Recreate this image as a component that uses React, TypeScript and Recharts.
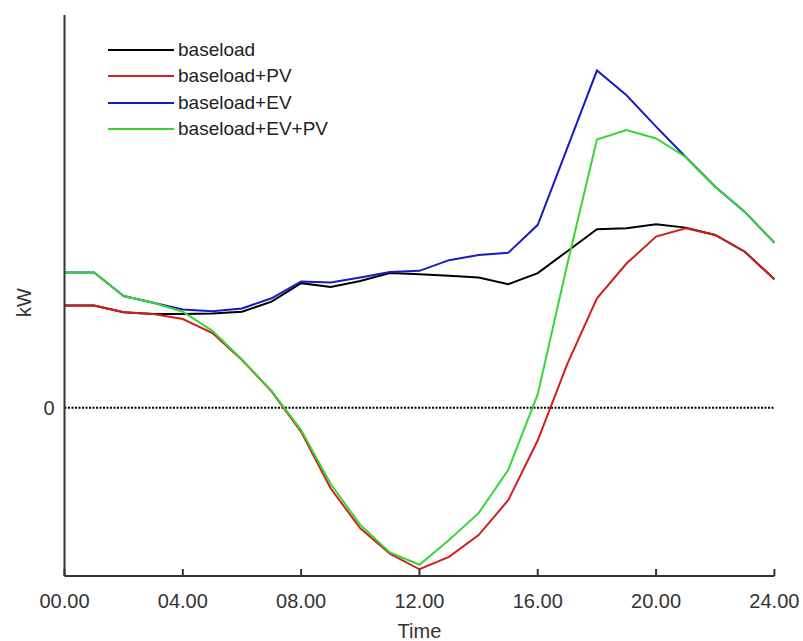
import { Legend, Line, LineChart, ReferenceLine, XAxis, YAxis } from "recharts";

const hours = [0, 1, 2, 3, 4, 5, 6, 7, 8, 9, 10, 11, 12, 13, 14, 15, 16, 17, 18, 19, 20, 21, 22, 23, 24];
const xTicks = [0, 4, 8, 12, 16, 20, 24];

// kW per hour of the day
const baseload = [1.82, 1.82, 1.7, 1.67, 1.67, 1.68, 1.71, 1.89, 2.22, 2.15, 2.26, 2.4, 2.38, 2.35, 2.32, 2.2, 2.4, 2.79, 3.18, 3.2, 3.27, 3.21, 3.08, 2.78, 2.29];
const baseloadPV = [1.82, 1.82, 1.7, 1.67, 1.58, 1.33, 0.85, 0.29, -0.43, -1.44, -2.15, -2.6, -2.88, -2.66, -2.27, -1.65, -0.58, 0.78, 1.95, 2.57, 3.05, 3.2, 3.08, 2.78, 2.29];
const baseloadEV = [2.41, 2.41, 1.99, 1.87, 1.75, 1.72, 1.77, 1.95, 2.25, 2.23, 2.32, 2.42, 2.44, 2.63, 2.72, 2.76, 3.26, 4.63, 6.01, 5.57, 5.01, 4.47, 3.94, 3.49, 2.94];
const baseloadEVPV = [2.41, 2.41, 1.99, 1.87, 1.71, 1.37, 0.86, 0.3, -0.4, -1.36, -2.09, -2.58, -2.8, -2.36, -1.88, -1.11, 0.24, 2.56, 4.78, 4.95, 4.8, 4.47, 3.94, 3.49, 2.94];

const series = [
  { key: "baseload", name: "baseload", color: "#000000" },
  { key: "baseloadPV", name: "baseload+PV", color: "#d11f1f" },
  { key: "baseloadEV", name: "baseload+EV", color: "#1a1ac4" },
  { key: "baseloadEVPV", name: "baseload+EV+PV", color: "#37d637" },
];

// lines are painted in this order so green sits over red and red over black
const drawOrder = ["baseload", "baseloadEV", "baseloadPV", "baseloadEVPV"];

const data = hours.map((hour, i) => ({
  hour,
  baseload: baseload[i],
  baseloadPV: baseloadPV[i],
  baseloadEV: baseloadEV[i],
  baseloadEVPV: baseloadEVPV[i],
}));

const FONT = "'Liberation Sans', Arial, sans-serif";
const AXIS_COLOR = "#333333";

const formatHour = (h: number) => `${String(h).padStart(2, "0")}.00`;

function TimeTick(props: any) {
  const { x, y, payload } = props;
  return (
    <g>
      <line x1={x} y1={y} x2={x} y2={y - 7} stroke={AXIS_COLOR} strokeWidth={2} />
      <text x={x} y={y + 32} textAnchor="middle" fill={AXIS_COLOR} fontSize={20} fontFamily={FONT}>
        {formatHour(payload.value)}
      </text>
    </g>
  );
}

function PowerTick(props: any) {
  const { x, y, payload } = props;
  return (
    <text x={x} y={y + 7} textAnchor="end" fill={AXIS_COLOR} fontSize={20} fontFamily={FONT}>
      {payload.value}
    </text>
  );
}

function TimeLabel(props: any) {
  const { viewBox } = props;
  return (
    <text x={viewBox.x + viewBox.width / 2} y={viewBox.y + 62} textAnchor="middle" fill={AXIS_COLOR} fontSize={20} fontFamily={FONT}>
      Time
    </text>
  );
}

function PowerLabel(props: any) {
  const { viewBox } = props;
  const cx = viewBox.x + 24;
  const cy = viewBox.y + viewBox.height / 2 + 7;
  return (
    <text x={cx} y={cy} transform={`rotate(-90 ${cx} ${cy})`} textAnchor="middle" dominantBaseline="central" fill={AXIS_COLOR} fontSize={20} fontFamily={FONT}>
      kW
    </text>
  );
}

function SeriesLegend() {
  return (
    <div style={{ fontFamily: FONT }}>
      {series.map((s) => (
        <div key={s.key} style={{ display: "flex", alignItems: "center", height: 26.3 }}>
          <div style={{ width: 66, height: 2, background: s.color }} />
          <span style={{ marginLeft: 4, fontSize: 19, color: "#222222", lineHeight: "20px" }}>{s.name}</span>
        </div>
      ))}
    </div>
  );
}

export default function App() {
  return (
    <div style={{ position: "absolute", left: 0, top: 0, width: 803, height: 641, background: "#ffffff" }}>
      <LineChart width={803} height={641} data={data} margin={{ top: 15, right: 28.6, bottom: 0, left: 0 }}>
        <XAxis
          dataKey="hour"
          type="number"
          domain={[0, 24]}
          ticks={xTicks}
          height={65}
          tickSize={0}
          tickMargin={0}
          tickLine={false}
          tick={<TimeTick />}
          axisLine={{ stroke: AXIS_COLOR, strokeWidth: 2 }}
          label={<TimeLabel />}
        />
        <YAxis
          type="number"
          domain={[-3, 7]}
          ticks={[0]}
          width={64.5}
          tickSize={0}
          tickMargin={10}
          tickLine={false}
          tick={<PowerTick />}
          axisLine={{ stroke: AXIS_COLOR, strokeWidth: 2 }}
          label={<PowerLabel />}
        />
        <ReferenceLine y={0} stroke="#000000" strokeWidth={2} strokeDasharray="2 1.5" />
        <Legend
          layout="vertical"
          align="center"
          verticalAlign="middle"
          content={<SeriesLegend />}
          wrapperStyle={{ left: 108, top: 37, width: "auto" }}
        />
        {drawOrder.map((key) => {
          const s = series.find((item) => item.key === key)!;
          return (
            <Line
              key={s.key}
              type="linear"
              dataKey={s.key}
              name={s.name}
              stroke={s.color}
              strokeWidth={2}
              dot={false}
              activeDot={false}
              isAnimationActive={false}
            />
          );
        })}
      </LineChart>
    </div>
  );
}
